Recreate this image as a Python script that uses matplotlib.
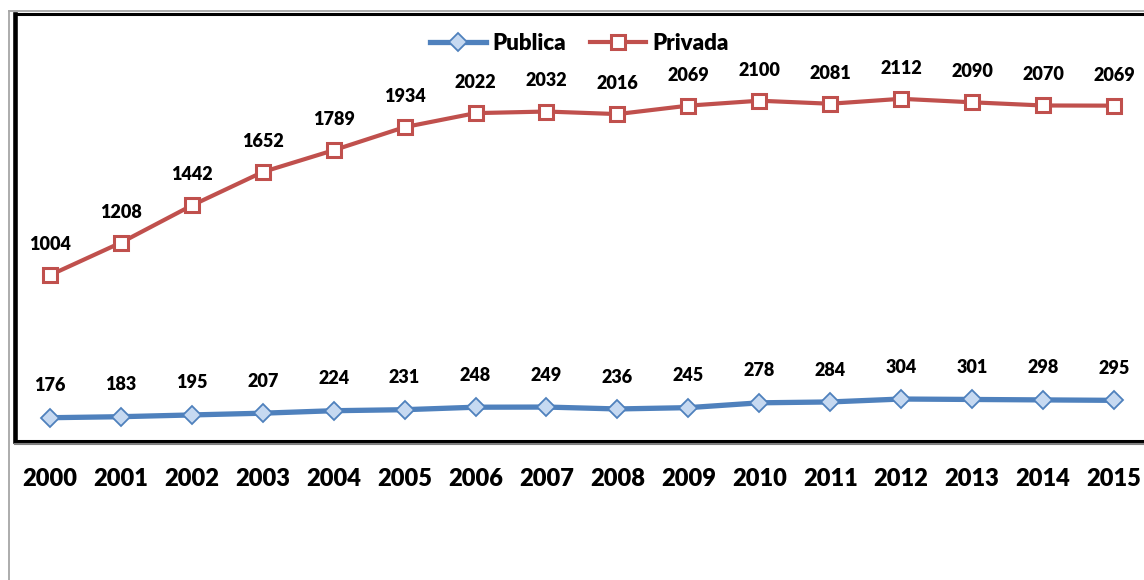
import matplotlib
matplotlib.use("Agg")
import matplotlib.pyplot as plt
from matplotlib.lines import Line2D

plt.rcParams['font.family'] = ['Lato', 'DejaVu Sans']

# Data
years = [2000, 2001, 2002, 2003, 2004, 2005, 2006, 2007,
         2008, 2009, 2010, 2011, 2012, 2013, 2014, 2015]
publica = [176, 183, 195, 207, 224, 231, 248, 249,
           236, 245, 278, 284, 304, 301, 298, 295]
privada = [1004, 1208, 1442, 1652, 1789, 1934, 2022, 2032,
           2016, 2069, 2100, 2081, 2112, 2090, 2070, 2069]

blue = "#4F81BD"
blue_fill = "#C6D9F1"
red = "#C0504D"
wt = "heavy"

W, H = 1144, 580
fig = plt.figure(figsize=(W / 100, H / 100), dpi=100)

# axes placed in pixel terms
left, top, bottom = 14.5, 13.5, 440.5
width = 16 * 70.93
ax = fig.add_axes([left / W, 1 - bottom / H, width / W, (bottom - top) / H])
ax2 = ax.twinx()

ax.plot(years, privada, color=red, lw=3, marker="s", ms=9.5,
        mfc="white", mec=red, mew=2.2, label="Privada", zorder=3)
ax2.plot(years, publica, color=blue, lw=3.8, marker="D", ms=9,
         mfc=blue_fill, mec=blue, mew=1.3, label="Publica", zorder=3)

for x, v in zip(years, privada):
    ax.annotate(str(v), (x, v), xytext=(0, 22), textcoords="offset points",
                ha="center", va="center", fontsize=13, fontweight=wt)
for x, v in zip(years, publica):
    ax2.annotate(str(v), (x, v), xytext=(0, 23), textcoords="offset points",
                 ha="center", va="center", fontsize=13, fontweight=wt)

ax.set_xlim(1999.5, 2015.5)
ax.set_ylim(-35, 2648)
ax2.set_ylim(20, 2944)

ax.set_xticks(years)
ax.set_xticklabels([str(y) for y in years], fontsize=17, fontweight=wt)
ax.tick_params(axis="x", length=0, pad=20)
ax.set_yticks([])
ax2.set_yticks([])

ax.spines["right"].set_visible(False)
ax.spines["left"].set_linewidth(3.3)
ax.spines["top"].set_linewidth(2.2)
ax.spines["bottom"].set_linewidth(2.2)
for s in ax2.spines.values():
    s.set_visible(False)

# gray shadow under the bottom axis line
fig.add_artist(Line2D([left / W, 1], [1 - 443.5 / H, 1 - 443.5 / H],
                      color="#808080", lw=1.5))
# outer gray frame
fig.add_artist(Line2D([8.5 / W, 8.5 / W], [0, 1 - 10.5 / H], color="#A6A6A6", lw=1.3))
fig.add_artist(Line2D([8.5 / W, 1], [1 - 10.5 / H, 1 - 10.5 / H], color="#A6A6A6", lw=1.3))

h1, l1 = ax2.get_legend_handles_labels()
h2, l2 = ax.get_legend_handles_labels()
fig.legend(h1 + h2, l1 + l2, loc="center left", bbox_to_anchor=(430 / W, 1 - 43 / H),
           ncol=2, frameon=False, borderpad=0, borderaxespad=0,
           handlelength=2.5, handletextpad=0.3, columnspacing=1.1,
           prop={"size": 16, "weight": wt})

fig.savefig("out.png", dpi=100)
